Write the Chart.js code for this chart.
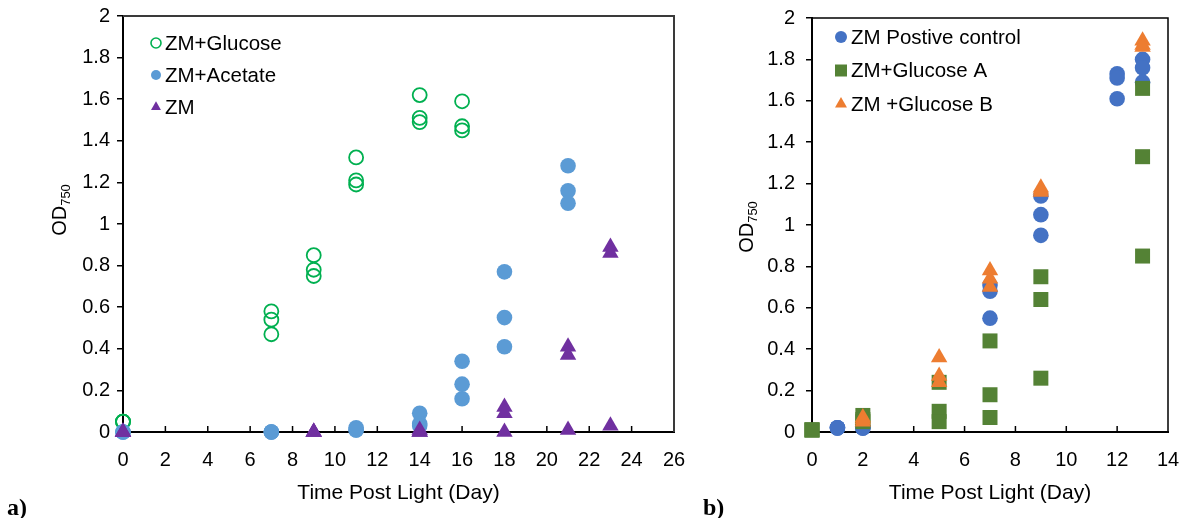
<!DOCTYPE html>
<html>
<head>
<meta charset="utf-8">
<title>OD750 growth curves</title>
<script src="https://cdn.jsdelivr.net/npm/chart.js@4.4.1/dist/chart.umd.min.js"></script>
<style>
  body { margin: 0; background: #fff; }
  #page { position: relative; width: 1183px; height: 518px; overflow: hidden; }
  .panel { position: absolute; top: 0; }
  .tag { position: absolute; top: 495px; font: bold 24px "Liberation Serif", "Times New Roman", serif; line-height: 24px; color: #000; }
</style>
</head>
<body>
<div id="page">
  <div class="panel" style="left:0"><canvas id="chartA" width="700" height="518"></canvas></div>
  <div class="panel" style="left:700px"><canvas id="chartB" width="483" height="518"></canvas></div>
  <div class="tag" style="left:7px">a)</div>
  <div class="tag" style="left:703px">b)</div>
</div>
<script>
// ---- panel a ----
const glucoseDays = [0, 0, 0, 7, 7, 7, 9, 9, 9, 11, 11, 11, 14, 14, 14, 16, 16, 16];
const glucoseOD   = [0.05, 0.05, 0.05, 0.58, 0.54, 0.47, 0.85, 0.78, 0.75, 1.32, 1.21, 1.19, 1.62, 1.51, 1.49, 1.59, 1.47, 1.45];
const acetateDays = [0, 0, 0, 7, 7, 7, 11, 11, 11, 14, 14, 14, 16, 16, 16, 18, 18, 18, 21, 21, 21];
const acetateOD   = [0, 0, 0, 0, 0, 0, 0.02, 0.01, 0.01, 0.09, 0.04, 0.03, 0.34, 0.23, 0.16, 0.77, 0.55, 0.41, 1.28, 1.16, 1.10];
const zmDays      = [0, 0, 0, 9, 9, 9, 14, 14, 14, 18, 18, 18, 21, 21, 21, 23, 23, 23];
const zmOD        = [0, 0, 0, 0, 0, 0, 0.01, 0, 0, 0.12, 0.09, 0, 0.41, 0.37, 0.01, 0.89, 0.86, 0.03];

// ---- panel b ----
const controlDays = [1, 1, 1, 2, 2, 2, 7, 7, 7, 9, 9, 9, 12, 12, 12, 13, 13, 13];
const controlOD   = [0.02, 0.02, 0.02, 0.02, 0.02, 0.02, 0.71, 0.68, 0.55, 1.14, 1.05, 0.95, 1.73, 1.71, 1.61, 1.80, 1.76, 1.69];
const glucADays   = [0, 0, 0, 2, 2, 2, 5, 5, 5, 7, 7, 7, 9, 9, 9, 13, 13, 13];
const glucAOD     = [0.01, 0.01, 0.01, 0.08, 0.06, 0.05, 0.24, 0.10, 0.05, 0.44, 0.18, 0.07, 0.75, 0.64, 0.26, 1.66, 1.33, 0.85];
const glucBDays   = [2, 2, 2, 5, 5, 5, 7, 7, 7, 9, 9, 9, 13, 13, 13];
const glucBOD     = [0.07, 0.06, 0.05, 0.36, 0.27, 0.24, 0.78, 0.74, 0.70, 1.18, 1.17, 1.16, 1.89, 1.87, 1.86];

const xTicksA = { min: 0, max: 26, step: 2 };
const xTicksB = { min: 0, max: 14, step: 2 };
const yTicks  = { min: 0, max: 2, step: 0.2 };

const FONT = '"Liberation Sans", Arial, sans-serif';

function toPoints(xs, ys) {
  return xs.map((x, i) => ({ x: x, y: ys[i] }));
}

// "1" and "2" rather than "1.0" / "2.0"
function plainNumber(value) {
  return String(Number(value.toFixed(2)));
}

function drawMarker(ctx, style, x, y, r, fill, stroke, lw) {
  ctx.beginPath();
  if (style === 'circle') {
    ctx.arc(x, y, r, 0, Math.PI * 2);
  } else if (style === 'rect') {
    ctx.rect(x - r, y - r, 2 * r, 2 * r);
  } else if (style === 'triangle') {
    const h = r * 1.15;
    ctx.moveTo(x, y - h);
    ctx.lineTo(x + h * 0.866, y + h * 0.5);
    ctx.lineTo(x - h * 0.866, y + h * 0.5);
    ctx.closePath();
  }
  if (fill) { ctx.fillStyle = fill; ctx.fill(); }
  if (stroke && lw) { ctx.strokeStyle = stroke; ctx.lineWidth = lw; ctx.stroke(); }
}

// legend inside the plot, plus box edges, inward x ticks and OD750 title
const framePlugin = {
  id: 'frame',
  beforeDatasetsDraw(chart, args, opts) {
    const { ctx, chartArea: a } = chart;
    const xs = chart.scales.x;
    ctx.save();
    // top and right edges of the box
    ctx.strokeStyle = opts.boxColor;
    ctx.lineWidth = opts.boxWidth;
    ctx.beginPath();
    ctx.moveTo(a.left, a.top);
    ctx.lineTo(a.right, a.top);
    ctx.lineTo(a.right, a.bottom);
    ctx.stroke();
    // x tick marks pointing up into the plot
    ctx.strokeStyle = '#000';
    ctx.lineWidth = 1.5;
    xs.ticks.forEach(t => {
      const px = xs.getPixelForValue(t.value);
      if (px <= a.left + 1 || px >= a.right - 1) return;
      ctx.beginPath();
      ctx.moveTo(px, a.bottom);
      ctx.lineTo(px, a.bottom - 6);
      ctx.stroke();
    });
    ctx.restore();
  },
  afterDraw(chart, args, opts) {
    const { ctx } = chart;
    ctx.save();
    // y axis title OD with subscript 750
    ctx.translate(opts.titleX, opts.titleY);
    ctx.rotate(-Math.PI / 2);
    ctx.fillStyle = '#000';
    ctx.textBaseline = 'middle';
    ctx.font = '20px ' + FONT;
    const wMain = ctx.measureText('OD').width;
    ctx.font = '13px ' + FONT;
    const wSub = ctx.measureText('750').width;
    const start = -(wMain + wSub) / 2;
    ctx.font = '20px ' + FONT;
    ctx.textAlign = 'left';
    ctx.fillText('OD', start, 0);
    ctx.font = '13px ' + FONT;
    ctx.fillText('750', start + wMain, 6);
    ctx.restore();

    // legend rows
    ctx.save();
    ctx.font = '20.5px ' + FONT;
    ctx.textBaseline = 'middle';
    ctx.textAlign = 'left';
    opts.legendRows.forEach((row, i) => {
      const ds = chart.data.datasets[row];
      const y = opts.legendY + i * opts.legendGap;
      const hollow = ds.backgroundColor === 'rgba(0,0,0,0)';
      drawMarker(ctx, ds.pointStyle, opts.legendX, y, opts.legendMarker,
        hollow ? null : ds.backgroundColor, ds.borderColor, hollow ? 1.6 : 0);
      ctx.fillStyle = '#000';
      ctx.fillText(ds.label, opts.legendX + opts.legendMarker + 4, y + 1);
    });
    ctx.restore();
  }
};

function makeOptions(xT, yWidth, yPad, padRight, frame) {
  return {
    responsive: false,
    animation: false,
    events: [],
    layout: { padding: { left: 0, top: frame.padTop, right: padRight, bottom: 0 } },
    plugins: {
      legend: { display: false },
      tooltip: { enabled: false },
      frame: frame
    },
    scales: {
      x: {
        type: 'linear',
        min: xT.min, max: xT.max,
        afterFit: s => { s.height = 86; s.paddingLeft = 0; s.paddingRight = 0; },
        grid: { display: false, drawTicks: false },
        border: { display: true, color: '#000', width: 2 },
        ticks: { stepSize: xT.step, padding: 16, color: '#000', font: { family: FONT, size: 20 } },
        title: {
          display: true, text: 'Time Post Light (Day)', color: '#000',
          font: { family: FONT, size: 21 }, padding: { top: 0, bottom: 12 }
        }
      },
      y: {
        type: 'linear',
        min: yTicks.min, max: yTicks.max,
        afterFit: s => { s.width = yWidth; s.paddingTop = 0; s.paddingBottom = 0; },
        grid: { drawOnChartArea: false, drawTicks: true, tickLength: 6, color: '#000', lineWidth: 1.5 },
        border: { display: true, color: '#000', width: 2 },
        ticks: {
          stepSize: yTicks.step, padding: yPad, color: '#000',
          font: { family: FONT, size: 20 }, callback: plainNumber
        }
      }
    }
  };
}

new Chart(document.getElementById('chartA'), {
  type: 'scatter',
  data: {
    datasets: [
      {
        label: 'ZM+Glucose', data: toPoints(glucoseDays, glucoseOD), order: 2, clip: false,
        pointStyle: 'circle', pointRadius: 7, borderWidth: 1.8,
        borderColor: '#00B050', backgroundColor: 'rgba(0,0,0,0)'
      },
      {
        label: 'ZM+Acetate', data: toPoints(acetateDays, acetateOD), order: 1, clip: false,
        pointStyle: 'circle', pointRadius: 7.8, borderWidth: 0,
        borderColor: '#5B9BD5', backgroundColor: '#5B9BD5'
      },
      {
        label: 'ZM', data: toPoints(zmDays, zmOD), order: 0, clip: false,
        pointStyle: 'triangle', pointRadius: 9.5, borderWidth: 0,
        borderColor: '#7030A0', backgroundColor: '#7030A0'
      }
    ]
  },
  options: makeOptions(xTicksA, 123, 7, 26, {
    padTop: 16, boxColor: '#3a3a3a', boxWidth: 2,
    titleX: 60, titleY: 210,
    legendX: 156, legendY: 43, legendGap: 32, legendMarker: 5,
    legendRows: [0, 1, 2]
  }),
  plugins: [framePlugin]
});

new Chart(document.getElementById('chartB'), {
  type: 'scatter',
  data: {
    datasets: [
      {
        label: 'ZM Postive control', data: toPoints(controlDays, controlOD), order: 2, clip: false,
        pointStyle: 'circle', pointRadius: 7.8, borderWidth: 0,
        borderColor: '#4472C4', backgroundColor: '#4472C4'
      },
      {
        label: 'ZM+Glucose A', data: toPoints(glucADays, glucAOD), order: 1, clip: false,
        pointStyle: 'rect', pointRadius: 10.6, borderWidth: 0,
        borderColor: '#548235', backgroundColor: '#548235'
      },
      {
        label: 'ZM +Glucose B', data: toPoints(glucBDays, glucBOD), order: 0, clip: false,
        pointStyle: 'triangle', pointRadius: 9.5, borderWidth: 0,
        borderColor: '#ED7D31', backgroundColor: '#ED7D31'
      }
    ]
  },
  options: makeOptions(xTicksB, 112, 11, 15, {
    padTop: 18, boxColor: '#000', boxWidth: 1.5,
    titleX: 47, titleY: 227,
    legendX: 141, legendY: 37, legendGap: 33.5, legendMarker: 6,
    legendRows: [0, 1, 2]
  }),
  plugins: [framePlugin]
});
</script>
</body>
</html>
